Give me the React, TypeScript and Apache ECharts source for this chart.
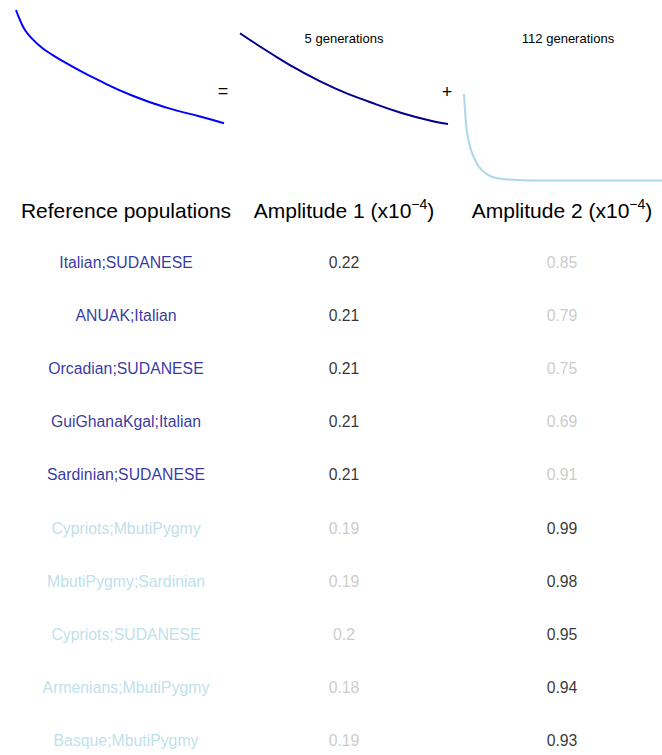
import React, { useEffect, useRef } from "react";
import * as echarts from "echarts";

// Top curves (x and y normalised 0..1 within each panel)
const TOTAL_CURVE: [number, number][] = [
  [0, 1.0], [0.019, 0.942], [0.043, 0.883], [0.083, 0.825], [0.123, 0.781],
  [0.163, 0.747], [0.244, 0.688], [0.404, 0.585], [0.564, 0.497], [0.724, 0.429],
  [0.885, 0.377], [1.0, 0.338],
];
const SLOW_CURVE: [number, number][] = [
  [0, 0.864], [0.136, 0.756], [0.297, 0.639], [0.457, 0.542], [0.617, 0.465],
  [0.777, 0.398], [0.938, 0.347], [1.0, 0.333],
];
const FAST_CURVE: [number, number][] = [
  [0, 0.509], [0.0135, 0.298], [0.0303, 0.201], [0.0556, 0.123], [0.0893, 0.064],
  [0.14, 0.025], [0.207, 0.01], [0.29, 0.005], [0.5, 0.003], [1.0, 0.003],
];
const SLOW_LABEL = "5 generations";
const FAST_LABEL = "112 generations";

// Table
const HEADERS = ["Reference populations", "Amplitude 1", "Amplitude 2"];
const POPULATIONS = [
  "Italian;SUDANESE",
  "ANUAK;Italian",
  "Orcadian;SUDANESE",
  "GuiGhanaKgal;Italian",
  "Sardinian;SUDANESE",
  "Cypriots;MbutiPygmy",
  "MbutiPygmy;Sardinian",
  "Cypriots;SUDANESE",
  "Armenians;MbutiPygmy",
  "Basque;MbutiPygmy",
];
const AMPLITUDE_1 = [0.22, 0.21, 0.21, 0.21, 0.21, 0.19, 0.19, 0.2, 0.18, 0.19];
const AMPLITUDE_2 = [0.85, 0.79, 0.75, 0.69, 0.91, 0.99, 0.98, 0.95, 0.94, 0.93];
// which component dominates: 1 = amplitude 1 (5 gen), 2 = amplitude 2 (112 gen)
const DOMINANT = [1, 1, 1, 1, 1, 2, 2, 2, 2, 2];

const NAVY = "#00008B";
const LIGHT = "#ADD8E6";
const BLUE = "#0000FF";
const GREY = "#BEBEBE";
const FONT = "Liberation Sans, Arial, sans-serif";

export default function App() {
  const ref = useRef<HTMLDivElement>(null);
  useEffect(() => {
    if (!ref.current) return;
    const chart = echarts.init(ref.current, null, { renderer: "svg" });

    const panelTop = 10;
    const panelH = 171;
    const panels = [
      { left: 16, width: 208 },
      { left: 240, width: 208 },
      { left: 464, width: 198 },
    ];
    const grids: any[] = panels.map((p) => ({
      left: p.left,
      width: p.width,
      top: panelTop,
      height: panelH,
      containLabel: false,
    }));
    // table grid: columns at the grid edges/centre, rows on a value scale
    const rowH = 53.22;
    const tableTop = 262 - rowH / 2;
    const tableBottom = 0;
    const visibleRows = (755 - tableBottom - tableTop) / rowH;
    grids.push({ left: 126, width: 436, top: tableTop, bottom: tableBottom });

    const xAxes: any[] = panels.map((_, i) => ({
      type: "value", gridIndex: i, min: 0, max: 1, show: false,
    }));
    const yAxes: any[] = panels.map((_, i) => ({
      type: "value", gridIndex: i, min: 0, max: 1, show: false,
    }));
    xAxes.push({
      type: "category",
      gridIndex: 3,
      position: "top",
      boundaryGap: false,
      data: HEADERS,
      axisLine: { show: false },
      axisTick: { show: false },
      splitLine: { show: false },
      axisLabel: {
        interval: 0,
        margin: 14,
        formatter: (v: string, idx: number) =>
          idx === 0 ? `{t|${v}}` : `{t|${v} (x10}{s|−4}{t|)}`,
        rich: {
          t: { fontSize: 21, fontFamily: FONT, color: "#000", verticalAlign: "bottom" },
          s: { fontSize: 14, fontFamily: FONT, color: "#000", verticalAlign: "bottom", padding: [0, 0, 10, 0] },
        },
      },
    });
    yAxes.push({
      type: "value",
      gridIndex: 3,
      inverse: true,
      min: -0.5,
      max: -0.5 + visibleRows,
      show: false,
    });

    const lineSeries = (data: [number, number][], idx: number, color: string, smooth: number) => ({
      type: "line",
      xAxisIndex: idx,
      yAxisIndex: idx,
      data,
      smooth,
      showSymbol: false,
      clip: false,
      lineStyle: { color, width: 2 },
    });

    const cells: any[] = [];
    POPULATIONS.forEach((name, i) => {
      const dom1 = DOMINANT[i] === 1;
      cells.push({ value: [0, i], text: name, color: dom1 ? NAVY : LIGHT });
      cells.push({ value: [1, i], text: String(AMPLITUDE_1[i]), color: dom1 ? "#000" : GREY });
      cells.push({ value: [2, i], text: String(AMPLITUDE_2[i]), color: dom1 ? GREY : "#000" });
    });

    chart.setOption({
      animation: false,
      grid: grids,
      xAxis: xAxes,
      yAxis: yAxes,
      series: [
        lineSeries(TOTAL_CURVE, 0, BLUE, 0.5),
        lineSeries(SLOW_CURVE, 1, NAVY, 0.5),
        lineSeries(FAST_CURVE, 2, LIGHT, 0.3),
        {
          type: "scatter",
          xAxisIndex: 3,
          yAxisIndex: 3,
          symbolSize: 1,
          clip: false,
          itemStyle: { color: "rgba(0,0,0,0)" },
          data: cells.map((c) => ({
            value: c.value,
            label: {
              show: true,
              position: "inside",
              formatter: c.text,
              color: c.color,
              textBorderWidth: 0,
              fontSize: 15.8,
              fontFamily: FONT,
            },
          })),
        },
      ],
      graphic: [
        { type: "text", x: 223, y: 91, style: { text: "=", fontSize: 18, fontFamily: FONT, fill: "#000", align: "center", verticalAlign: "middle" } },
        { type: "text", x: 447, y: 92, style: { text: "+", fontSize: 18, fontFamily: FONT, fill: "#000", align: "center", verticalAlign: "middle" } },
        { type: "text", x: 344, y: 38, style: { text: SLOW_LABEL, fontSize: 13, fontFamily: FONT, fill: "#000", align: "center", verticalAlign: "middle" } },
        { type: "text", x: 568, y: 38, style: { text: FAST_LABEL, fontSize: 13, fontFamily: FONT, fill: "#000", align: "center", verticalAlign: "middle" } },
      ],
    });
    return () => chart.dispose();
  }, []);
  return (
    <div
      ref={ref}
      style={{ position: "absolute", left: 0, top: 0, width: 662, height: 755, background: "#fff" }}
    />
  );
}
